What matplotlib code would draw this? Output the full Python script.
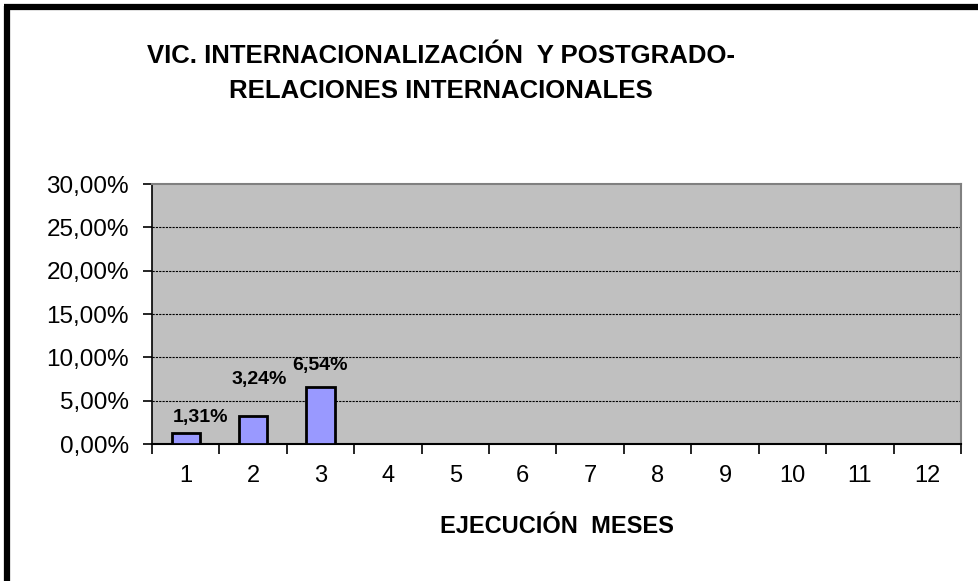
import numpy as np
import matplotlib.pyplot as plt
from matplotlib.lines import Line2D
from matplotlib.ticker import FixedLocator, NullFormatter

plt.rcParams['font.family'] = ['Liberation Sans', 'DejaVu Sans']

months = [str(m) for m in range(1, 13)]
execution_pct = [1.31, 3.24, 6.54]
label_texts = ["1,31%", "3,24%", "6,54%"]
y_ticks = [0, 5, 10, 15, 20, 25, 30]
y_tick_labels = ["0,00%", "5,00%", "10,00%", "15,00%", "20,00%", "25,00%", "30,00%"]

W, H = 979, 581
fig = plt.figure(figsize=(W / 100, H / 100), dpi=100)
fig.patch.set_facecolor("white")

# plot area in pixels: x 152..961, y 184..444
ax = fig.add_axes([152 / W, 1 - 444 / H, (961 - 152) / W, (444 - 184) / H])
ax.set_facecolor("#C0C0C0")

x = np.arange(1, len(months) + 1)
bars = ax.bar(x[:len(execution_pct)], execution_pct, width=0.42,
              color="#9999FF", edgecolor="black", linewidth=2, zorder=3)

# Excel put the labels a little off-centre
label_offsets = [(10.8, 10.8), (4.3, 26), (-0.7, 15.8)]
for bar, txt, (dx, dy) in zip(bars, label_texts, label_offsets):
    ax.annotate(txt, (bar.get_x() + bar.get_width() / 2, bar.get_height()),
                xytext=(dx, dy), textcoords="offset points",
                ha="center", va="center", fontsize=14, fontweight="bold",
                zorder=4)

ax.set_xlim(0.5, 12.5)
ax.set_ylim(0, 30)
ax.set_yticks(y_ticks)
ax.set_yticklabels(y_tick_labels, fontsize=17.5)
ax.set_xticks(x)
ax.set_xticklabels(months, fontsize=17)
ax.xaxis.set_minor_locator(FixedLocator(np.arange(0.5, 13, 1)))
ax.xaxis.set_minor_formatter(NullFormatter())
ax.tick_params(axis="x", which="major", length=0, pad=15)
ax.tick_params(axis="x", which="minor", length=7, width=1.2, color="black")
ax.tick_params(axis="y", length=6.5, width=1.2, color="black", pad=10)

for y in y_ticks[1:-1]:
    ax.axhline(y, color="black", linestyle=(0, (2, 1)), linewidth=0.8, zorder=1)

for side in ["top", "right"]:
    ax.spines[side].set_color("#808080")
    ax.spines[side].set_linewidth(1.5)
ax.spines["left"].set_color("black")
ax.spines["left"].set_linewidth(1.2)
ax.spines["bottom"].set_color("black")
ax.spines["bottom"].set_linewidth(1.5)

ax.set_xlabel("EJECUCIÓN  MESES", fontsize=17, fontweight="bold", labelpad=20)

fig.text(441 / W, 1 - 56 / H, "VIC. INTERNACIONALIZACIÓN  Y POSTGRADO-",
         ha="center", va="center", fontsize=18.5, fontweight="bold")
fig.text(441 / W, 1 - 91 / H, "RELACIONES INTERNACIONALES",
         ha="center", va="center", fontsize=18.5, fontweight="bold")

# outer frame (only top and left visible in the crop)
fig.add_artist(Line2D([7 / W, 7 / W], [0, 1 - 6 / H], transform=fig.transFigure,
                      color="black", linewidth=4.5, solid_capstyle="butt"))
fig.add_artist(Line2D([4 / W, 1], [1 - 6.5 / H, 1 - 6.5 / H], transform=fig.transFigure,
                      color="black", linewidth=4.5, solid_capstyle="butt"))

fig.savefig("out.png", dpi=100)
